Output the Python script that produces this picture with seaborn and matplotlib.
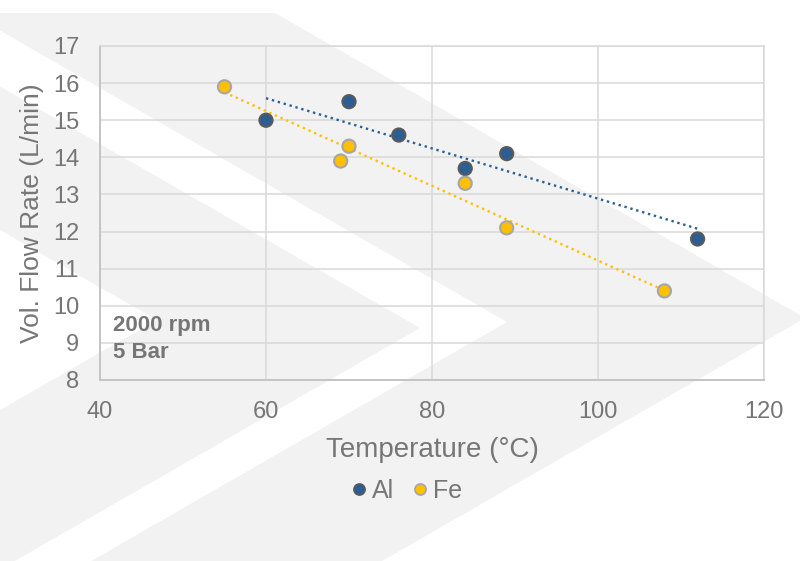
import numpy as np
import pandas as pd
import matplotlib
matplotlib.use("Agg")
import matplotlib.pyplot as plt
from matplotlib.patches import Polygon
from matplotlib.lines import Line2D
import seaborn as sns

# ---- data ----
al_temp = [60, 70, 76, 84, 89, 112]
al_flow = [15.0, 15.5, 14.6, 13.7, 14.1, 11.8]
fe_temp = [55, 70, 69, 84, 89, 108]
fe_flow = [15.9, 14.3, 13.9, 13.3, 12.1, 10.4]
series_names = ["Al", "Fe"]
x_ticks = [40, 60, 80, 100, 120]
y_ticks = [8, 9, 10, 11, 12, 13, 14, 15, 16, 17]
note_lines = ["2000 rpm", "5 Bar"]

df = pd.DataFrame({
    "Temperature": al_temp + fe_temp,
    "Flow": al_flow + fe_flow,
    "Metal": ["Al"] * len(al_temp) + ["Fe"] * len(fe_temp),
})

sns.set_style("white")
plt.rcParams["font.family"] = ["Liberation Sans", "DejaVu Sans"]

TXT = "#767676"
colors = {"Al": "#2b5f93", "Fe": "#ffc000"}
edges = {"Al": "#5a5a5a", "Fe": "#a6a6a6"}

fig = plt.figure(figsize=(8.0, 5.61), dpi=100, facecolor="white")

# ---- decorative chevron background ----
bg = fig.add_axes([0, 0, 1, 1], zorder=-5)
bg.set_xlim(0, 800)
bg.set_ylim(561, 0)
bg.axis("off")
GRAY = "#f2f2f2"
bg.add_patch(Polygon([(0, 13), (275, 13), (805, 318), (382, 561), (0, 561)],
                     closed=True, facecolor=GRAY, edgecolor="none"))
bg.add_patch(Polygon([(0, 30.5), (507, 322), (0, 613.5)],
                     closed=True, facecolor="white", edgecolor="none"))
bg.add_patch(Polygon([(0, 86.5), (420, 328), (0, 569.5)],
                     closed=True, facecolor=GRAY, edgecolor="none"))
bg.add_patch(Polygon([(0, 230), (157, 320), (0, 410)],
                     closed=True, facecolor="white", edgecolor="none"))

# ---- main axes ----
ax = fig.add_axes([100 / 800, 1 - 380 / 561, 664 / 800, 334 / 561])
ax.set_facecolor("none")

for name in series_names:
    sub = df[df["Metal"] == name]
    sns.regplot(data=sub, x="Temperature", y="Flow", ax=ax, scatter=False,
                ci=None, truncate=True,
                line_kws=dict(color=colors[name], lw=1.7, dashes=(1, 1.6),
                              zorder=2))

sns.scatterplot(data=df, x="Temperature", y="Flow", hue="Metal",
                palette=colors, ax=ax, s=90, legend=False, zorder=3,
                edgecolor=[edges[m] for m in df["Metal"]], linewidth=1.5)

ax.set_xlim(40, 120)
ax.set_ylim(8, 17)
ax.set_xticks(x_ticks)
ax.set_yticks(y_ticks)
ax.grid(True, color="#d9d9d9", lw=1.1)
ax.set_axisbelow(True)
for side in ["top", "right"]:
    ax.spines[side].set_color("#d9d9d9")
    ax.spines[side].set_linewidth(1.1)
for side in ["left", "bottom"]:
    ax.spines[side].set_color("#c4c4c4")
    ax.spines[side].set_linewidth(1.4)
ax.tick_params(length=0, labelsize=17, colors=TXT, pad=15)
ax.set_xlabel("Temperature (°C)", fontsize=20, color=TXT, labelpad=10)
ax.set_ylabel("Vol. Flow Rate (L/min)", fontsize=19, color=TXT, labelpad=6)

ax.text(0.019, 0.162, note_lines[0], transform=ax.transAxes, fontsize=16,
        fontweight="bold", color=TXT, va="center", ha="left")
ax.text(0.019, 0.081, note_lines[1], transform=ax.transAxes, fontsize=16,
        fontweight="bold", color=TXT, va="center", ha="left")

handles = [Line2D([], [], ls="none", marker="o", markersize=8,
                  markerfacecolor=colors[n], markeredgecolor=edges[n],
                  markeredgewidth=1.2, label=n) for n in series_names]
leg = fig.legend(handles=handles, loc="center", ncol=2,
                 bbox_to_anchor=(405 / 800, 1 - 491 / 561), frameon=False,
                 fontsize=18, handletextpad=0.05, columnspacing=0.6,
                 handlelength=0.9, borderaxespad=0)
for t in leg.get_texts():
    t.set_color(TXT)

fig.savefig("out.png", dpi=100, facecolor="white")
